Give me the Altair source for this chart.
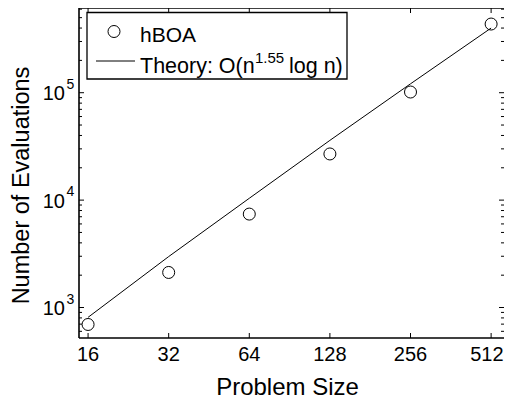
import altair as alt
import pandas as pd

# ---- data ----
sizes = [16, 32, 64, 128, 256, 512]
evals = [695, 2120, 7410, 26900, 101500, 436000]
theory = [810, 2980, 10400, 36000, 121000, 400000]

x_tick_values = [16, 32, 64, 128, 256, 512]
x_tick_labels = ["16", "32", "64", "128", "256", "512"]
y_decades = [1000, 10000, 100000]
y_exponents = ["3", "4", "5"]
y_minor = [600, 700, 800, 900,
           2000, 3000, 4000, 5000, 6000, 7000, 8000, 9000,
           20000, 30000, 40000, 50000, 60000, 70000, 80000, 90000,
           200000, 300000, 400000, 500000, 600000]

legend_point_label = "hBOA"
legend_line_label = "Theory: O(n"
legend_sup = "1.55"
legend_tail = "log n)"
x_title = "Problem Size"
y_title = "Number of Evaluations"

W, H = 425, 330
FONT = "Liberation Sans"

pts = pd.DataFrame({"size": sizes, "evals": evals})
th = pd.DataFrame({"size": sizes, "theory": theory})
xt = pd.DataFrame({"v": x_tick_values, "t": x_tick_labels})
yd = pd.DataFrame({"v": y_decades, "e": y_exponents})
ym = pd.DataFrame({"v": y_minor})
one = pd.DataFrame({"a": [0]})

xscale = alt.Scale(type="log", base=2, domain=[14.8, 572])
yscale = alt.Scale(type="log", domain=[520, 615000])

line = alt.Chart(th).mark_line(color="black", strokeWidth=1).encode(
    x=alt.X("size:Q", scale=xscale, axis=None),
    y=alt.Y("theory:Q", scale=yscale, axis=None),
)

points = alt.Chart(pts).mark_point(
    shape="circle", filled=False, color="black", size=144, strokeWidth=1, opacity=1
).encode(
    x=alt.X("size:Q", scale=xscale, axis=None),
    y=alt.Y("evals:Q", scale=yscale, axis=None),
)

# frame (left, top, bottom)
spine_top = alt.Chart(one).mark_rule(color="black", strokeWidth=1.6).encode(
    x=alt.value(0), x2=alt.value(W), y=alt.value(0))
spine_bottom = alt.Chart(one).mark_rule(color="black", strokeWidth=1.6).encode(
    x=alt.value(0), x2=alt.value(W), y=alt.value(H))
spine_left = alt.Chart(one).mark_rule(color="black", strokeWidth=1.6).encode(
    x=alt.value(0), y=alt.value(0), y2=alt.value(H))

# inside ticks
xt_bottom = alt.Chart(xt).mark_rule(color="black", strokeWidth=1).encode(
    x=alt.X("v:Q", scale=xscale, axis=None), y=alt.value(H - 5), y2=alt.value(H))
xt_top = alt.Chart(xt).mark_rule(color="black", strokeWidth=1).encode(
    x=alt.X("v:Q", scale=xscale, axis=None), y=alt.value(0), y2=alt.value(5))
yd_left = alt.Chart(yd).mark_rule(color="black", strokeWidth=1).encode(
    y=alt.Y("v:Q", scale=yscale, axis=None), x=alt.value(0), x2=alt.value(5))
yd_right = alt.Chart(yd).mark_rule(color="black", strokeWidth=1).encode(
    y=alt.Y("v:Q", scale=yscale, axis=None), x=alt.value(W - 5), x2=alt.value(W))
ym_left = alt.Chart(ym).mark_rule(color="black", strokeWidth=1).encode(
    y=alt.Y("v:Q", scale=yscale, axis=None), x=alt.value(0), x2=alt.value(3))
ym_right = alt.Chart(ym).mark_rule(color="black", strokeWidth=1).encode(
    y=alt.Y("v:Q", scale=yscale, axis=None), x=alt.value(W - 3), x2=alt.value(W))

# x tick labels (last one kept inside the page edge)
xlab = alt.Chart(xt).transform_filter("datum.v < 400").mark_text(
    align="center", baseline="middle", fontSize=20, font=FONT, color="black"
).encode(x=alt.X("v:Q", scale=xscale, axis=None), y=alt.value(H + 17), text="t:N")
xlab_last = alt.Chart(xt).transform_filter("datum.v >= 400").mark_text(
    align="right", baseline="middle", fontSize=20, font=FONT, color="black", dx=12.5
).encode(x=alt.X("v:Q", scale=xscale, axis=None), y=alt.value(H + 17), text="t:N")

# y tick labels 10^k
ylab_base = alt.Chart(yd).mark_text(
    align="right", baseline="middle", fontSize=20, font=FONT, color="black", dy=1.5
).encode(y=alt.Y("v:Q", scale=yscale, axis=None), x=alt.value(-14), text=alt.value("10"))
ylab_exp = alt.Chart(yd).mark_text(
    align="left", baseline="middle", fontSize=14, font=FONT, color="black", dy=-8
).encode(y=alt.Y("v:Q", scale=yscale, axis=None), x=alt.value(-12.5), text="e:N")

# axis titles
xtitle = alt.Chart(one).mark_text(
    align="center", baseline="middle", fontSize=24, font=FONT, color="black"
).encode(x=alt.value(208.5), y=alt.value(H + 50), text=alt.value(x_title))
ytitle = alt.Chart(one).mark_text(
    align="center", baseline="middle", fontSize=23.5, font=FONT, color="black", angle=270
).encode(x=alt.value(-57), y=alt.value(177.5), text=alt.value(y_title))

# legend
leg_box = alt.Chart(one).mark_rect(fill="white", stroke="black", strokeWidth=1.3).encode(
    x=alt.value(8), x2=alt.value(268), y=alt.value(4.5), y2=alt.value(71))
leg_pt = alt.Chart(one).mark_point(
    shape="circle", filled=False, color="black", size=144, strokeWidth=1, opacity=1
).encode(x=alt.value(35), y=alt.value(23.5))
leg_pt_txt = alt.Chart(one).mark_text(
    align="left", baseline="alphabetic", fontSize=21, font=FONT, color="black"
).encode(x=alt.value(61), y=alt.value(34), text=alt.value(legend_point_label))
leg_line = alt.Chart(one).mark_rule(color="black", strokeWidth=1).encode(
    x=alt.value(17), x2=alt.value(56), y=alt.value(53))
leg_line_txt = alt.Chart(one).mark_text(
    align="left", baseline="alphabetic", fontSize=21.5, font=FONT, color="black"
).encode(x=alt.value(61), y=alt.value(65), text=alt.value(legend_line_label))
leg_sup = alt.Chart(one).mark_text(
    align="left", baseline="alphabetic", fontSize=15, font=FONT, color="black"
).encode(x=alt.value(176), y=alt.value(55), text=alt.value(legend_sup))
leg_tail = alt.Chart(one).mark_text(
    align="left", baseline="alphabetic", fontSize=21.5, font=FONT, color="black"
).encode(x=alt.value(210), y=alt.value(65), text=alt.value(legend_tail))

chart = alt.layer(
    line, points,
    spine_top, spine_bottom, spine_left,
    xt_bottom, xt_top, yd_left, yd_right, ym_left, ym_right,
    xlab, xlab_last, ylab_base, ylab_exp, xtitle, ytitle,
    leg_box, leg_pt, leg_pt_txt, leg_line, leg_line_txt, leg_sup, leg_tail,
).properties(
    width=W, height=H,
    autosize=alt.AutoSizeParams(type="none"),
    padding={"left": 71, "top": 0, "right": 0, "bottom": 65},
    background="white",
).configure_view(strokeWidth=0)

chart.save("out.html", embed_options={"renderer": "svg", "actions": False})
